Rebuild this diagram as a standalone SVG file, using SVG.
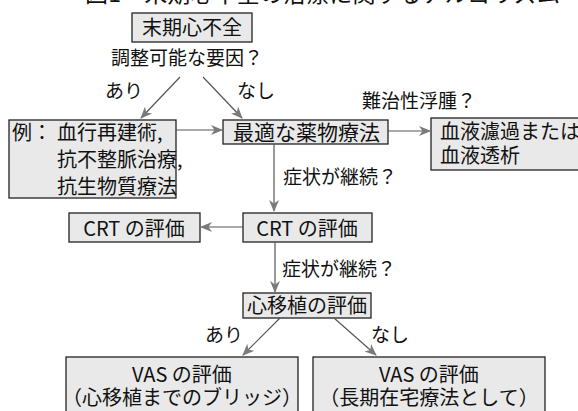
<svg xmlns="http://www.w3.org/2000/svg" width="578" height="411" viewBox="0 0 578 411">
<defs>
<marker id="ah" viewBox="0 0 12 10" refX="11" refY="5" markerWidth="12" markerHeight="10" markerUnits="userSpaceOnUse" orient="auto">
<path d="M0,0 L12,5 L0,10 L3.5,5 z" fill="#7a7a7a"/>
</marker>
</defs>
<style>
.box{fill:#e9e9e9;stroke:#222;stroke-width:1.3}
.t{font-family:"Noto Sans CJK JP","Noto Sans",sans-serif;font-size:20px;fill:#111}
.l{font-family:"Noto Sans CJK JP","Noto Sans",sans-serif;font-size:19px;fill:#111}
.c{stroke:#555;stroke-width:1.2;fill:none;marker-end:url(#ah)}
</style>
<rect width="578" height="411" fill="#fff"/>
<text class="t" x="85" y="2" style="font-size:23px" textLength="475" lengthAdjust="spacing">図1　末期心不全の治療に関するアルゴリズム</text>

<g id="n-start">
<rect class="box" x="132" y="13" width="120" height="29"/>
<text class="t" x="192" y="35" text-anchor="middle">末期心不全</text>
</g>
<text class="l" x="187" y="65" text-anchor="middle">調整可能な要因？</text>
<text class="l" x="105" y="98">あり</text>
<text class="l" x="237" y="98">なし</text>
<text class="l" x="362" y="108">難治性浮腫？</text>

<g id="n-example">
<rect class="box" x="9" y="120" width="167" height="78"/>
<text class="t" x="12" y="140">例：</text>
<text class="t" x="57" y="140">血行再建術,</text>
<text class="t" x="57" y="167">抗不整脈治療,</text>
<text class="t" x="57" y="194">抗生物質療法</text>
</g>

<g id="n-drug">
<rect class="box" x="223" y="120" width="165" height="24"/>
<text class="t" x="233" y="140" style="font-size:21px">最適な薬物療法</text>
</g>

<g id="n-dialysis">
<rect class="box" x="431" y="118" width="160" height="52"/>
<text class="t" x="440" y="139">血液濾過または</text>
<text class="t" x="440" y="163">血液透析</text>
</g>

<text class="l" x="283" y="184">症状が継続？</text>

<g id="n-crt-left">
<rect class="box" x="69" y="213" width="131" height="29"/>
<text class="t" x="134" y="236" text-anchor="middle">CRT の評価</text>
</g>

<g id="n-crt">
<rect class="box" x="243" y="213" width="129" height="29"/>
<text class="t" x="307" y="236" text-anchor="middle">CRT の評価</text>
</g>

<text class="l" x="282" y="276">症状が継続？</text>

<g id="n-tx">
<rect class="box" x="243" y="293" width="128" height="25"/>
<text class="t" x="307" y="313" text-anchor="middle">心移植の評価</text>
</g>

<text class="l" x="205" y="342">あり</text>
<text class="l" x="371" y="342">なし</text>

<g id="n-vas-bridge">
<rect class="box" x="66" y="357" width="232" height="70"/>
<text class="t" x="182" y="382" text-anchor="middle">VAS の評価</text>
<text class="t" x="182" y="405" text-anchor="middle">（心移植までのブリッジ）</text>
</g>

<g id="n-vas-home">
<rect class="box" x="313" y="357" width="232" height="70"/>
<text class="t" x="429" y="382" text-anchor="middle">VAS の評価</text>
<text class="t" x="429" y="405" text-anchor="middle">（長期在宅療法として）</text>
</g>

<g id="connectors">
<line class="c" x1="180" y1="77" x2="141" y2="118"/>
<line class="c" x1="203" y1="77" x2="242" y2="118"/>
<line class="c" x1="176" y1="130" x2="222" y2="130"/>
<line class="c" x1="388" y1="131" x2="430" y2="131"/>
<line class="c" x1="274" y1="144" x2="274" y2="211"/>
<line class="c" x1="243" y1="227" x2="201" y2="227"/>
<line class="c" x1="275" y1="242" x2="275" y2="292"/>
<line class="c" x1="280" y1="318" x2="243" y2="355"/>
<line class="c" x1="334" y1="318" x2="376" y2="355"/>
</g>
</svg>
